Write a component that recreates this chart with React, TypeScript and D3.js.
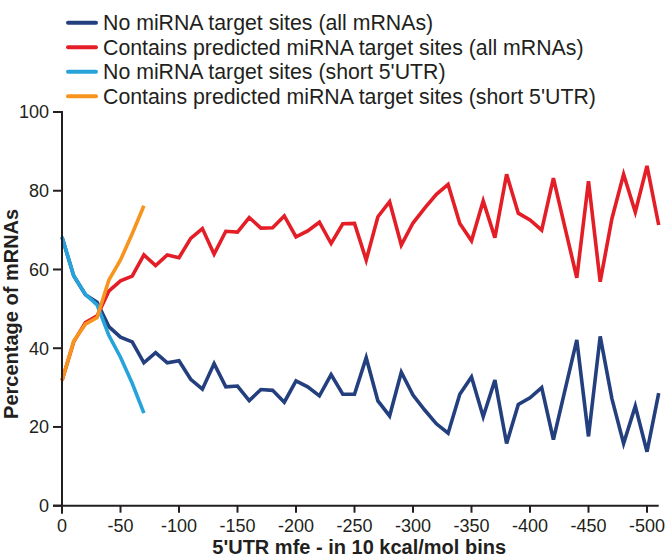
import React from "react";
import * as d3 from "d3";

const mfe = [0, -10, -20, -30, -40, -50, -60, -70, -80, -90, -100, -110, -120, -130, -140, -150, -160, -170, -180, -190, -200, -210, -220, -230, -240, -250, -260, -270, -280, -290, -300, -310, -320, -330, -340, -350, -360, -370, -380, -390, -400, -410, -420, -430, -440, -450, -460, -470, -480, -490, -500, -510];

const noSitesAll = [68.2, 58.4, 53.6, 51.7, 45.5, 42.8, 41.6, 36.3, 38.9, 36.3, 36.8, 32.1, 29.6, 36.1, 30.2, 30.4, 26.7, 29.5, 29.3, 26.3, 31.7, 30.2, 27.9, 33.3, 28.3, 28.3, 37.6, 26.6, 22.8, 33.9, 28.1, 24.3, 20.8, 18.4, 28.3, 32.7, 22.6, 31.9, 15.8, 25.7, 27.4, 30.0, 16.8, 29.5, 42.1, 17.6, 43.0, 27.2, 15.8, 25.3, 13.7, 28.6];

const withSitesAll = [31.8, 41.6, 46.5, 48.2, 54.5, 57.1, 58.3, 63.7, 61.0, 63.7, 63.0, 67.9, 70.4, 63.9, 69.7, 69.5, 73.2, 70.5, 70.6, 73.6, 68.3, 69.8, 72.0, 66.6, 71.6, 71.7, 62.4, 73.4, 77.2, 66.2, 71.8, 75.6, 79.1, 81.6, 71.7, 67.3, 77.4, 68.1, 84.2, 74.3, 72.6, 70.0, 83.2, 70.5, 57.9, 82.4, 56.9, 72.9, 84.2, 74.6, 86.3, 71.3];

const mfeShort = [0, -10, -20, -30, -40, -50, -60, -70];
const noSitesShort = [68.3, 58.4, 53.7, 51.0, 43.3, 37.7, 31.1, 23.5];
const withSitesShort = [31.8, 41.8, 46.1, 47.8, 57.3, 62.4, 69.1, 76.2];

const xTicks = [0, -50, -100, -150, -200, -250, -300, -350, -400, -450, -500];
const yTicks = [0, 20, 40, 60, 80, 100];

const seriesNames = [
  "No miRNA target sites (all mRNAs)",
  "Contains predicted miRNA target sites (all mRNAs)",
  "No miRNA target sites (short 5'UTR)",
  "Contains predicted miRNA target sites (short 5'UTR)",
];
const seriesColors = ["#233f7e", "#e31e26", "#27a3dc", "#f7941e"];

const xLabel = "5'UTR mfe - in 10 kcal/mol bins";
const yLabel = "Percentage of mRNAs";

export default function App() {
  const W = 666, H = 558;
  const x = d3.scaleLinear().domain([0, -510]).range([62, 658.7]);
  const y = d3.scaleLinear().domain([0, 100]).range([505.7, 112]);
  const ink = "#231f20";
  const font = "Arial, 'Liberation Sans', Helvetica, sans-serif";

  const line = d3
    .line<[number, number]>()
    .x((d) => x(d[0]))
    .y((d) => y(d[1]));

  const series: [number[], number[]][] = [
    [mfe, noSitesAll],
    [mfe, withSitesAll],
    [mfeShort, noSitesShort],
    [mfeShort, withSitesShort],
  ];

  return (
    <svg
      width={W}
      height={H}
      style={{ position: "absolute", left: 0, top: 0, background: "#fff" }}
      fontFamily={font}
    >
      <rect width={W} height={H} fill="#fff" />
      {seriesNames.map((name, i) => {
        const ly = 22.7 + i * 24.5;
        return (
          <g key={name}>
            <line
              x1={68}
              x2={96}
              y1={ly}
              y2={ly}
              stroke={seriesColors[i]}
              strokeWidth={4}
              strokeLinecap="round"
            />
            <text x={103} y={ly + 7.3} fontSize={21.3} fill={ink}>
              {name}
            </text>
          </g>
        );
      })}

      {series.map(([xs, ys], i) => (
        <path
          key={i}
          d={line(xs.map((v, j) => [v, ys[j]] as [number, number])) || ""}
          fill="none"
          stroke={seriesColors[i]}
          strokeWidth={3.6}
          strokeLinejoin="miter"
        />
      ))}

      <line x1={62} x2={62} y1={y(100) - 1} y2={y(0) + 8} stroke={ink} strokeWidth={2} />
      {yTicks.map((t) => (
        <g key={t}>
          <line x1={53} x2={62} y1={y(t)} y2={y(t)} stroke={ink} strokeWidth={2} />
          <text x={49} y={y(t) + 6.3} fontSize={18} textAnchor="end" fill={ink}>
            {t}
          </text>
        </g>
      ))}

      <line x1={53} x2={x(-510)} y1={y(0)} y2={y(0)} stroke={ink} strokeWidth={2} />
      {xTicks.map((t) => (
        <g key={t}>
          <line x1={x(t)} x2={x(t)} y1={y(0)} y2={y(0) + 7} stroke={ink} strokeWidth={2} />
          <text x={x(t)} y={532} fontSize={18} textAnchor="middle" fill={ink}>
            {t === 0 ? "0" : "-" + Math.abs(t)}
          </text>
        </g>
      ))}

      <text
        x={x(-254)}
        y={554}
        fontSize={20}
        fontWeight="bold"
        textAnchor="middle"
        fill={ink}
      >
        {xLabel}
      </text>
      <text
        transform={`translate(17.5, ${(y(0) + y(100)) / 2 + 5}) rotate(-90)`}
        fontSize={20}
        fontWeight="bold"
        textAnchor="middle"
        fill={ink}
      >
        {yLabel}
      </text>
    </svg>
  );
}
